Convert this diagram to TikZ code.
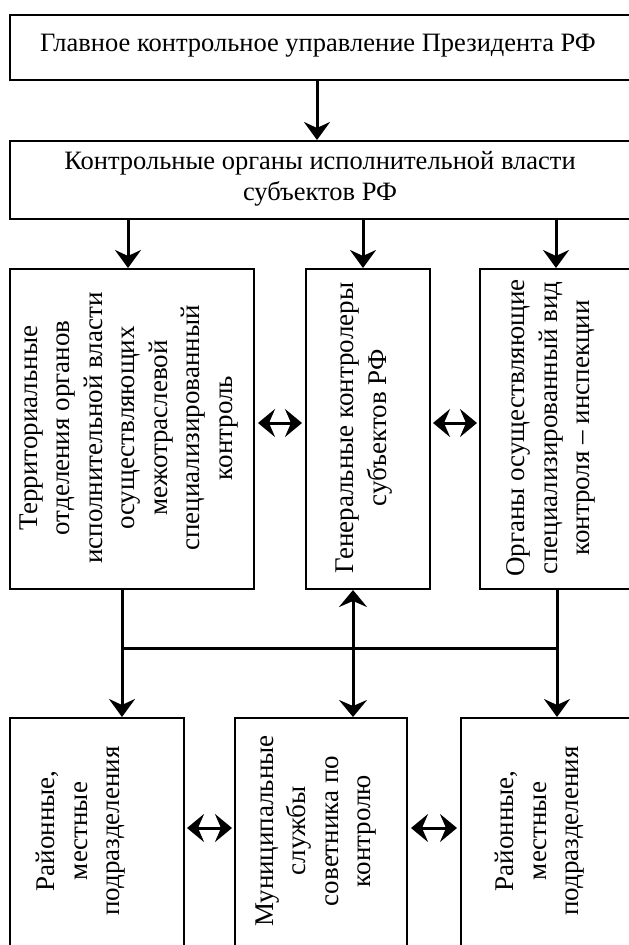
\documentclass[tikz,border=0pt]{standalone}
\usepackage{fontspec}
\setmainfont{Liberation Serif}
\usetikzlibrary{arrows.meta}
\begin{document}
\begin{tikzpicture}[x=1pt,y=-1pt,
  box/.style={draw,line width=2pt,rectangle,inner sep=0pt,anchor=north west},
  txt/.style={font=\fontsize{26.5}{31.5}\selectfont,align=center,inner sep=0pt},
  vtxt/.style={font=\fontsize{27}{32.5}\selectfont,align=center,inner sep=0pt,rotate=90},
  arr/.style={line width=3pt,-{Stealth[length=18pt,width=26pt,inset=6pt]}},
  darr/.style={line width=3pt,{Stealth[length=17pt,width=28pt,inset=6pt]}-{Stealth[length=17pt,width=28pt,inset=6pt]}},
  link/.style={line width=3pt}]
\useasboundingbox (0,0) rectangle (629,945);
\clip (0,0) rectangle (629,945);
% boxes
\node[box,minimum width=625pt,minimum height=65pt] (top) at (9,14) {};
\node[box,minimum width=625pt,minimum height=78pt] (sub) at (9,140) {};
\node[box,minimum width=244pt,minimum height=320pt] (ml) at (9,268) {};
\node[box,minimum width=124pt,minimum height=320pt] (mm) at (305,268) {};
\node[box,minimum width=160pt,minimum height=320pt] (mr) at (479,268) {};
\node[box,minimum width=174pt,minimum height=250pt] (bl) at (9,717) {};
\node[box,minimum width=172pt,minimum height=250pt] (bm) at (234,717) {};
\node[box,minimum width=180pt,minimum height=250pt] (br) at (460,717) {};
% texts
\node[txt] (ttop) at (318,46) {Главное контрольное управление Президента РФ};
\node[txt] (tsub) at (320,179) {Контрольные органы исполнительной власти\\субъектов РФ};
\node[vtxt] (tml) at (129,428) {Территориальные\\отделения органов\\исполнительной власти\\осуществляющих\\межотраслевой\\специализированный\\контроль};
\node[vtxt] (tmm) at (364,428) {Генеральные контролеры\\субъектов РФ};
\node[vtxt] (tmr) at (551,428) {Органы осуществляющие\\специализированный вид\\контроля – инспекции};
\node[vtxt] (tbl) at (81,831) {Районные,\\местные\\подразделения};
\node[vtxt] (tbm) at (316,831) {Муниципальные\\службы\\советника по\\контролю};
\node[vtxt] (tbr) at (540,831) {Районные,\\местные\\подразделения};
% x positions
\coordinate (x1) at (317,0);
\coordinate (x2) at (128,0);
\coordinate (x3) at (363,0);
\coordinate (x4) at (556,0);
\coordinate (x5) at (122,0);
\coordinate (x6) at (353,0);
\coordinate (x7) at (557,0);
\coordinate (yh) at (0,648);
\coordinate (ym) at (0,423);
\coordinate (yb) at (0,828);
% connectors
\draw[arr] (top.south -| x1) -- (sub.north -| x1);
\draw[arr] (sub.south -| x2) -- (ml.north -| x2);
\draw[arr] (sub.south -| x3) -- (mm.north -| x3);
\draw[arr] (sub.south -| x4) -- (mr.north -| x4);
\draw[arr] (ml.south -| x5) -- (bl.north -| x5);
\draw[arr] (mr.south -| x7) -- (br.north -| x7);
\draw[link] (x5 |- yh) -- (x7 |- yh);
\draw[darr] (mm.south -| x6) -- (bm.north -| x6);
\draw[darr,shorten <=3pt,shorten >=3pt] (ml.east |- ym) -- (mm.west |- ym);
\draw[darr,shorten <=2pt,shorten >=2pt] (mm.east |- ym) -- (mr.west |- ym);
\draw[darr,shorten <=2pt,shorten >=2pt] (bl.east |- yb) -- (bm.west |- yb);
\draw[darr,shorten <=3pt,shorten >=3pt] (bm.east |- yb) -- (br.west |- yb);
\end{tikzpicture}
\end{document}
